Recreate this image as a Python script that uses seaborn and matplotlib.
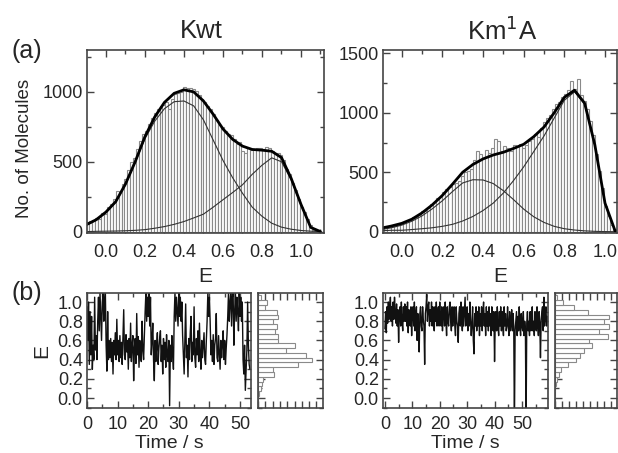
import numpy as np
import pandas as pd
import matplotlib
matplotlib.use('Agg')
import matplotlib.pyplot as plt
from matplotlib.ticker import MultipleLocator, NullFormatter
import seaborn as sns

# ── Data ─────────────────────────────────────────────────────
# FRET histograms (bin width 0.015, centres from -0.0925)
hist_bin_w = 0.015
hist_centers = np.round(-0.0925 + hist_bin_w * np.arange(79), 4)
kwt_counts = [70, 75, 80, 95, 90, 130, 125, 175, 200, 230,
              290, 280, 340, 375, 440, 500, 530, 590, 650, 700,
              720, 770, 810, 850, 875, 900, 905, 930, 880, 950,
              985, 990, 1000, 1035, 1030, 1025, 1020, 1010, 975, 950,
              930, 900, 880, 845, 800, 760, 750, 720, 700, 690,
              660, 630, 640, 575, 560, 600, 585, 590, 595, 600,
              590, 605, 600, 580, 565, 560, 545, 510, 450, 410,
              350, 300, 230, 175, 140, 90, 45, 15, 5]
km1a_counts = [40, 45, 40, 55, 50, 60, 65, 75, 90, 100,
               120, 125, 140, 170, 175, 200, 235, 250, 280, 290,
               330, 360, 380, 400, 410, 430, 470, 500, 510, 530,
               600, 680, 650, 620, 690, 660, 700, 780, 760, 680,
               720, 700, 680, 730, 720, 740, 700, 730, 760, 780,
               820, 800, 870, 920, 960, 980, 1030, 1070, 1090, 1130,
               1160, 1190, 1270, 1200, 1280, 1150, 1100, 1030, 930, 810,
               650, 510, 370, 220, 130, 60, 20, 5, 0]

# Gaussian fit curves at E steps of 0.05
fit_E = [-0.1, -0.05, 0.0, 0.05, 0.1, 0.15, 0.2, 0.25, 0.3, 0.35,
         0.4, 0.45, 0.5, 0.55, 0.6, 0.65, 0.7, 0.75, 0.8, 0.85,
         0.9, 0.95, 1.0, 1.05, 1.1]
kwt_sum = [50, 85, 140, 214, 340, 500, 680, 820, 925, 990,
           1015, 1000, 935, 840, 735, 660, 612, 588, 583, 575,
           530, 380, 195, 30, 0]
kwt_low = [45, 80, 135, 210, 335, 495, 665, 790, 880, 930,
           935, 900, 800, 655, 510, 385, 275, 175, 110, 60,
           32, 17, 8, 3, 0]
kwt_high = [0, 2, 3, 4, 6, 9, 14, 24, 36, 52,
            72, 98, 125, 175, 228, 280, 335, 410, 475, 528,
            500, 370, 190, 30, 0]
km1a_sum = [30, 48, 70, 105, 158, 225, 305, 400, 500, 565,
            612, 645, 668, 700, 735, 800, 880, 1000, 1130, 1190,
            1080, 730, 240, 5, 0]
km1a_low = [18, 33, 55, 88, 133, 192, 260, 338, 410, 437,
            435, 405, 345, 270, 190, 125, 78, 45, 25, 14,
            7, 3, 1, 0, 0]
km1a_high = [8, 12, 12, 18, 25, 33, 45, 62, 90, 128,
             178, 240, 325, 430, 545, 675, 805, 955, 1105, 1176,
             1073, 727, 239, 5, 0]

# single-molecule time traces, 0.25 s per point
trace_dt = 0.25
kwt_trace = [0.95, 0.6, 1.0, 0.35, 0.9, 0.45, 0.85, 0.3,
             0.55, 0.4, 1.05, 0.5, 0.65, 0.4,
             0.8, 1.05, 0.7, 1.1, 0.85, 0.6, 1.0, 1.1, 0.8, 1.0,
             1.1, 0.55, 0.28, 0.9, 0.4, 0.6,
             0.42, 0.62, 0.38, 0.58, 0.25, 0.6, 0.45, 0.68, 0.4, 0.82,
             0.45, 0.6, 0.38, 0.65, 0.42, 0.58, 0.35, 0.62, 0.92, 0.45,
             0.4, 0.66, 0.48, 0.6, 0.3, 0.62, 0.42, 0.78, 0.38, 0.55,
             0.65, 0.18, 0.52, 0.62, 0.36, 0.88, 0.45, 0.64, 0.32, 0.6,
             0.44, 0.38, 0.8, 0.5, 0.4, 0.65,
             0.9, 1.1, 0.8, 1.05, 0.85, 1.1, 0.75, 1.05,
             0.45, 0.6, 0.78, 0.4, 0.18, 0.6, 0.38, 0.55, 0.68, 0.35,
             0.52, 0.62, 0.7, 0.38, 0.55, 0.25, 0.62, 0.4, 0.58, 0.32,
             0.66, 0.45, 0.38, 0.6, -0.08, 0.55, 0.38, 0.65, 0.45, 0.3,
             0.85, 1.1, 0.8, 1.05, 0.9, 0.75, 1.1, 0.85, 1.05, 0.8, 1.0, 0.65,
             0.45, 0.25, 0.6, 0.98, 0.42, 0.55, 0.22, 0.62, 0.4, 0.68,
             0.85, 0.38, 0.58, 0.45, 0.95, 0.42, 0.32, 0.62, 0.45, 0.7,
             0.38, 0.78, 0.45, 0.3, 0.6, 0.42, 0.55, 0.68, 0.4, 0.35,
             0.6, 0.8,
             1.1, 0.85, 1.05, 0.8,
             0.45, 0.6, 0.38, 0.66, 0.35, 0.55, 0.62, 0.88, 0.42, 0.38,
             0.65, 0.48, 0.3, 0.6, 0.42, 0.55, 0.7, 0.4, 0.6, 0.35,
             0.52, 0.66,
             0.85, 1.1, 0.8, 1.0, 1.1, 0.75, 1.05, 1.1, 0.55, 0.9,
             1.1, 0.8, 1.05, 0.9, 0.7, 1.1, 0.85, 1.05, 0.8, 1.0,
             0.4, 0.25, 0.55, 0.08, 0.3, 0.5, 1.0, 0.55, 0.35, 0.3]
km1a_trace = [0.72, 0.9, 0.68, 0.95, 0.78, 1.0, 0.82, 0.95, 1.05, 0.8,
              0.95, 0.75, 1.0, 0.82, 1.05, 0.88, 0.78, 0.98, 0.75, 0.92,
              0.58, 0.88, 0.95, 0.75, 1.0, 0.8, 0.7, 0.95, 0.8, 0.98,
              0.8, 0.95, 0.75, 1.0, 0.68, 0.92, 0.8, 0.75, 0.95, 0.65,
              0.88, 0.95, 0.75, 1.0, 0.7, 0.85, 0.95, 0.6, 0.88, 0.75,
              0.48, 0.88, 0.95, 0.75, 0.7, 0.95, 0.82, 0.75, 0.35, 0.88,
              0.95, 1.08, 0.8, 0.95, 1.0, 0.75, 0.92, 0.8, 1.0, 0.75,
              0.95, 0.8, 0.7, 0.95, 0.8, 1.0, 0.75, 0.88, 0.95, 0.75,
              1.0, 0.8, 0.75, 0.95, 0.7, 0.88, 0.95, 0.75, 1.0, 0.8,
              0.65, 0.95, 0.8, 0.75, 0.95, 1.0, 0.8, 0.7, 0.95, 0.75,
              0.9, 0.95, 0.75, 0.65, 0.95, 0.8, 0.75, 0.58, 0.88, 0.95,
              0.75, 1.0, 0.8, 0.7, 0.95, 0.75, 0.9, 1.05, 0.75, 0.88,
              0.95, 0.7, 0.88, 0.75, 1.0, 0.8, 0.65, 0.78, 0.95, 0.6,
              0.46, 0.88, 0.75, 0.95, 0.7, 0.9, 0.75, 0.95, 0.65, 0.88,
              0.75, 0.95, 0.7, 0.9, 1.0, 0.75, 0.88, 0.65, 0.95, 0.75,
              0.9, 0.7, 0.95, 0.75, 0.88, 0.65, 0.95, 0.75, 0.7, 0.9,
              0.38, 0.78, 0.9, 0.7, 0.95, 0.75, 0.65, 0.9, 0.75, 0.95,
              0.7, 0.9, 0.75, 0.65, 0.95, 0.75, 0.88, 0.7, 0.75, 0.95,
              0.75, 0.65, 0.9, 0.7, 0.78, 0.92, 0.7, 0.88, 0.75, -0.3,
              0.7, 0.8, 0.9, 0.65, 0.85, 0.7, 0.95, 0.75, 0.65, 0.88,
              0.75, 0.7, 0.9, 0.65, 0.8, 0.72, -0.3, 0.78, 0.9, 0.7,
              0.8, 0.65, 0.9, 0.7, 0.78, 0.95, 0.7, 0.8, 0.65, 0.9,
              0.75, 0.7, 0.95, 0.75, 0.65, 0.9, 0.78, 0.42, 0.8, 0.9,
              0.95, 0.7, 1.05, 0.75, 0.88, 0.95, 0.75, 0.85]

# side histograms of the traces (bin width 0.05)
side_bin_w = 0.05
side_centers = [1.045, 0.995, 0.945, 0.895, 0.845, 0.795, 0.745, 0.695,
                0.645, 0.595, 0.545, 0.495, 0.445, 0.395, 0.345, 0.295,
                0.245, 0.195, 0.145, 0.095, 0.045, -0.005, -0.055]
kwt_side = [4, 10.7, 8, 23, 24.6, 19, 23, 20.5, 24, 24, 45, 35,
            59, 67, 49, 19, 20, 6.5, 5.3, 3.3, 1.5, 0.5, 0]
km1a_side = [3, 10, 25, 42, 70, 63, 70, 57, 69, 44, 48, 37,
             32, 27, 17, 8, 5.5, 2, 1.3, 0.5, 0.3, 0, 0]

# ── Style ────────────────────────────────────────────────────
sns.set_theme(style='ticks')
plt.rcParams['font.family'] = ['Liberation Sans', 'DejaVu Sans']
SPINE = '#444444'
BAR_EDGE = '#8a8a8a'

W, H = 618, 453
fig = plt.figure(figsize=(W / 100, H / 100), dpi=100)


def px_axes(x0, y0, x1, y1):
    return fig.add_axes([x0 / W, 1 - y1 / H, (x1 - x0) / W, (y1 - y0) / H])


def style_axes(ax, labelsize, xpad=3):
    for s in ax.spines.values():
        s.set_color(SPINE)
        s.set_linewidth(1.2)
    ax.tick_params(which='both', direction='in', top=True, right=True,
                   color=SPINE, labelsize=labelsize)
    ax.tick_params(axis='x', pad=xpad)
    ax.tick_params(axis='y', pad=3)
    ax.tick_params(which='major', length=5, width=1)
    ax.tick_params(which='minor', length=3, width=1)


def weighted_hist(ax, centers, counts, w, orient):
    df = pd.DataFrame({'E': np.asarray(centers, dtype=float),
                       'n': np.asarray(counts, dtype=float)})
    lo = float(df['E'].min()) - w / 2
    hi = float(df['E'].max()) + w / 2
    kw = dict(data=df, weights='n', binwidth=w, binrange=(lo, hi), ax=ax,
              color='white', edgecolor=BAR_EDGE, linewidth=0.8, alpha=1)
    if orient == 'x':
        sns.histplot(x='E', **kw)
    else:
        sns.histplot(y='E', **kw)


# ---- (a) FRET histograms ------------------------------------
panels_a = [
    (px_axes(87, 50, 324, 233), kwt_counts, kwt_sum, kwt_low, kwt_high,
     (-0.097, 1.118), (-10, 1300), 'Kwt', 201),
    (px_axes(383, 50, 617, 233), km1a_counts, km1a_sum, km1a_low, km1a_high,
     (-0.092, 1.059), (-11, 1528), 'Km$^{1}$A', 502),
]
for ax, counts, fsum, flow, fhigh, xl, yl, title, tx in panels_a:
    weighted_hist(ax, hist_centers, counts, hist_bin_w, 'x')
    for vals in (flow, fhigh):
        sns.lineplot(x=fit_E, y=vals, ax=ax, color='#333333', linewidth=0.8,
                     estimator=None, sort=False)
    sns.lineplot(x=fit_E, y=fsum, ax=ax, color='black', linewidth=2.0,
                 estimator=None, sort=False)
    ax.set_xlim(*xl)
    ax.set_ylim(*yl)
    ax.xaxis.set_major_locator(MultipleLocator(0.2))
    ax.xaxis.set_minor_locator(MultipleLocator(0.1))
    ax.yaxis.set_major_locator(MultipleLocator(500))
    ax.yaxis.set_minor_locator(MultipleLocator(250))
    ax.xaxis.set_major_formatter(lambda v, p: f'{v:.1f}')
    style_axes(ax, 13, xpad=8)
    ax.set_xlabel('E', fontsize=15, labelpad=4)
    ax.set_ylabel('')
    fig.text(tx / W, 1 - 31 / H, title, fontsize=18.5,
             ha='center', va='center')

ax_kwt = panels_a[0][0]
ax_kwt.set_ylabel('No. of Molecules', fontsize=13.5)
ax_kwt.yaxis.set_label_coords(-0.228, 0.46)

# ---- (b) time traces + side histograms ----------------------
panels_b = [
    (px_axes(87, 293, 251, 408), px_axes(258, 293, 323, 408),
     kwt_trace, kwt_side, (0, 53.6)),
    (px_axes(383, 293, 548, 408), px_axes(555, 293, 617, 408),
     km1a_trace, km1a_side, (-0.7, 59.5)),
]
for ax, axh, trace, side, xl in panels_b:
    t = np.arange(len(trace)) * trace_dt
    sns.lineplot(x=t, y=trace, ax=ax, color='#111111', linewidth=1.0,
                 estimator=None, sort=False)
    ax.set_xlim(*xl)
    ax.set_ylim(-0.104, 1.094)
    ax.xaxis.set_major_locator(MultipleLocator(10))
    ax.xaxis.set_minor_locator(MultipleLocator(5))
    ax.yaxis.set_major_locator(MultipleLocator(0.2))
    ax.yaxis.set_minor_locator(MultipleLocator(0.1))
    ax.yaxis.set_major_formatter(lambda v, p: f'{v:.1f}')
    style_axes(ax, 13, xpad=6)
    ax.set_xlabel('Time / s', fontsize=14, labelpad=1)
    ax.set_ylabel('')

    weighted_hist(axh, side_centers, side, side_bin_w, 'y')
    axh.set_ylim(-0.104, 1.094)
    axh.set_xlim(0, 80)
    axh.xaxis.set_major_locator(MultipleLocator(9))
    axh.yaxis.set_major_locator(MultipleLocator(0.2))
    axh.yaxis.set_minor_locator(MultipleLocator(0.1))
    axh.xaxis.set_major_formatter(NullFormatter())
    axh.yaxis.set_major_formatter(NullFormatter())
    style_axes(axh, 13)
    axh.set_xlabel('')
    axh.set_ylabel('')

panels_b[0][0].set_ylabel('E', fontsize=15, labelpad=5)

fig.text(27 / W, 1 - 51 / H, '(a)', fontsize=18, ha='center', va='center')
fig.text(27 / W, 1 - 293 / H, '(b)', fontsize=18, ha='center', va='center')

fig.savefig('out.png', dpi=100)
